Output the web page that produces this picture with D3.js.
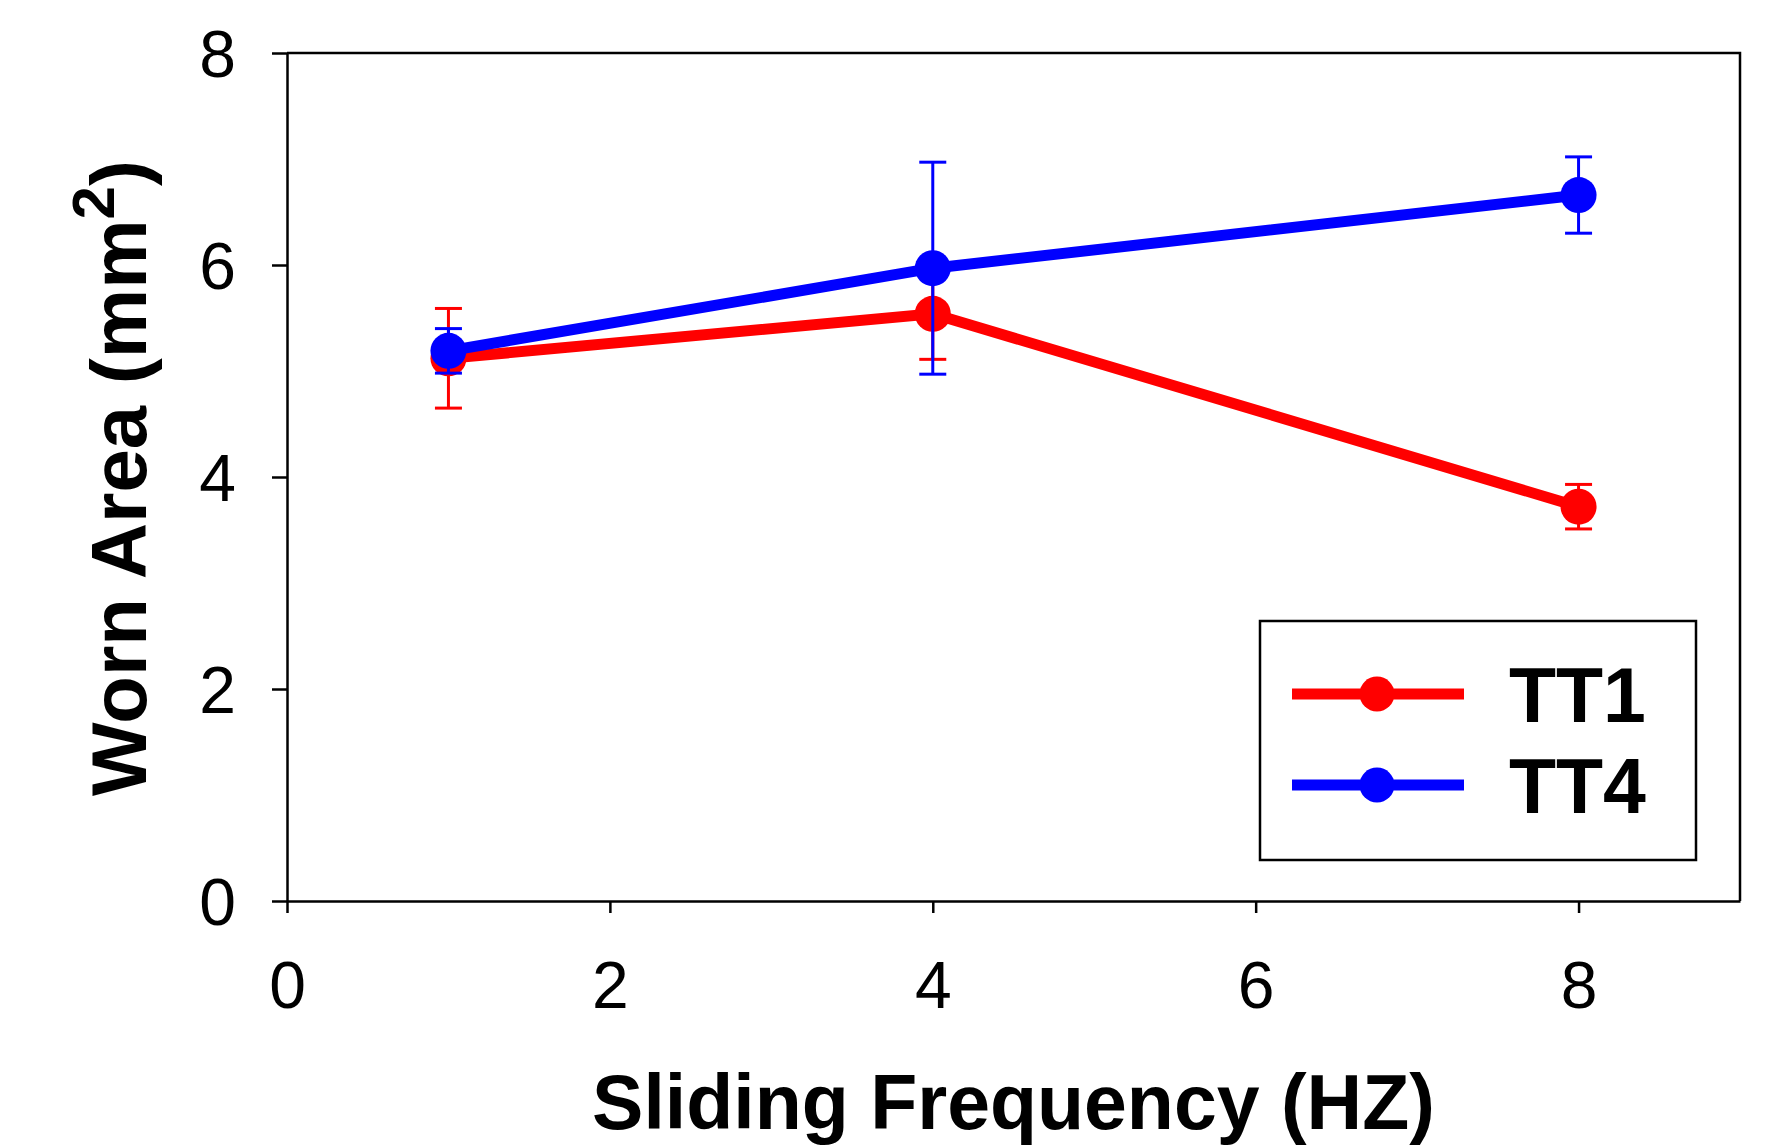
<html>
	<head>
		<script type="text/javascript" src="https://cdn.jsdelivr.net/npm/d3@7"></script>
		<style>
			body{
				margin:0;
				background:#fff;
			}
			svg{
				font-family:"Liberation Sans", Arial, sans-serif;
			}
		</style>
	</head>
	<body>
		<div id="container"></div>
		<script type="text/javascript">

			// data
			var freq = [1, 4, 8];
			var tt1 = [5.12, 5.54, 3.72];
			var tt1Err = [0.47, 0.43, 0.21];
			var tt4 = [5.19, 5.97, 6.66];
			var tt4Err = [0.21, 1.0, 0.36];
			var xTicks = [0, 2, 4, 6, 8];
			var yTicks = [0, 2, 4, 6, 8];
			var seriesNames = ["TT1", "TT4"];
			var seriesColors = ["#ff0000", "#0000ff"];

			var width = 1779, height = 1146;
			var pLeft = 287, pRight = 1740, pTop = 53, pBottom = 901;

			var svg = d3.select("#container")
					.append("svg")
					.attr("width", width)
					.attr("height", height);

			var x = d3.scaleLinear().domain([0, 9]).range([pLeft, pRight]);
			var y = d3.scaleLinear().domain([0, 8]).range([pBottom, pTop]);

			// frame (top and right lines)
			svg.append("path")
				.attr("d", "M" + pLeft + " " + pTop + "H" + pRight + "V" + pBottom)
				.attr("fill", "none")
				.attr("stroke", "#000")
				.attr("stroke-width", 2.5);

			var xAxis = d3.axisBottom(x)
						.tickValues(xTicks)
						.tickSizeInner(12)
						.tickSizeOuter(0)
						.tickPadding(48),
				yAxis = d3.axisLeft(y)
						.tickValues(yTicks)
						.tickSizeInner(15)
						.tickSizeOuter(0)
						.tickPadding(36);

			var gx = svg.append("g")
				.attr("transform", "translate(0," + pBottom + ")")
				.call(xAxis);
			var gy = svg.append("g")
				.attr("transform", "translate(" + pLeft + ",0)")
				.call(yAxis);

			[gx, gy].forEach(function(g){
				g.selectAll("path, line").attr("stroke", "#000").attr("stroke-width", 2.5);
				g.selectAll("text")
					.attr("fill", "#000")
					.style("font-size", "66px")
					.style("font-family", "\"Liberation Sans\", Arial, sans-serif");
			});
			gy.selectAll("text").attr("dy", "0.36em");

			// axis titles
			svg.append("text")
				.attr("x", (pLeft + pRight) / 2)
				.attr("y", 1129)
				.attr("text-anchor", "middle")
				.style("font-size", "77px")
				.style("font-weight", "bold")
				.text("Sliding Frequency (HZ)");

			var yt = svg.append("text")
				.attr("transform", "translate(146," + ((pTop + pBottom) / 2 + 1) + ") rotate(-90)")
				.attr("text-anchor", "middle")
				.style("font-size", "78px")
				.style("font-weight", "bold");
			yt.append("tspan").text("Worn Area (mm");
			yt.append("tspan").attr("dy", -32).style("font-size", "60px").text("2");
			yt.append("tspan").attr("dy", 32).text(")");

			var line = d3.line()
				.x(function(d){ return x(d.f); })
				.y(function(d){ return y(d.v); });

			var series = [
				freq.map(function(f, i){ return {f: f, v: tt1[i], e: tt1Err[i]}; }),
				freq.map(function(f, i){ return {f: f, v: tt4[i], e: tt4Err[i]}; })
			];

			series.forEach(function(data, s){
				var col = seriesColors[s];
				var g = svg.append("g");

				g.append("path")
					.datum(data)
					.attr("d", line)
					.attr("fill", "none")
					.attr("stroke", col)
					.attr("stroke-width", 11);

				var eb = g.selectAll(".eb").data(data).enter().append("g");
				eb.append("line")
					.attr("x1", function(d){ return x(d.f); })
					.attr("x2", function(d){ return x(d.f); })
					.attr("y1", function(d){ return y(d.v - d.e); })
					.attr("y2", function(d){ return y(d.v + d.e); })
					.attr("stroke", col).attr("stroke-width", 3);
				[-1, 1].forEach(function(sg){
					eb.append("line")
						.attr("x1", function(d){ return x(d.f) - 13.5; })
						.attr("x2", function(d){ return x(d.f) + 13.5; })
						.attr("y1", function(d){ return y(d.v + sg * d.e); })
						.attr("y2", function(d){ return y(d.v + sg * d.e); })
						.attr("stroke", col).attr("stroke-width", 3);
				});

				g.selectAll("circle").data(data).enter().append("circle")
					.attr("cx", function(d){ return x(d.f); })
					.attr("cy", function(d){ return y(d.v); })
					.attr("r", 18)
					.attr("fill", col);
			});

			// legend
			var lg = svg.append("g");
			lg.append("rect")
				.attr("x", 1260).attr("y", 621)
				.attr("width", 436).attr("height", 239)
				.attr("fill", "#fff")
				.attr("stroke", "#000")
				.attr("stroke-width", 2.5);

			seriesNames.forEach(function(name, i){
				var ly = 694 + i * 91;
				lg.append("line")
					.attr("x1", 1292).attr("x2", 1464)
					.attr("y1", ly).attr("y2", ly)
					.attr("stroke", seriesColors[i])
					.attr("stroke-width", 11);
				lg.append("circle")
					.attr("cx", 1377).attr("cy", ly)
					.attr("r", 17.5)
					.attr("fill", seriesColors[i]);
				lg.append("text")
					.attr("x", 1509).attr("y", ly + 28)
					.style("font-size", "77px")
					.style("font-weight", "bold")
					.text(name);
			});

		</script>
	</body>
</html>
